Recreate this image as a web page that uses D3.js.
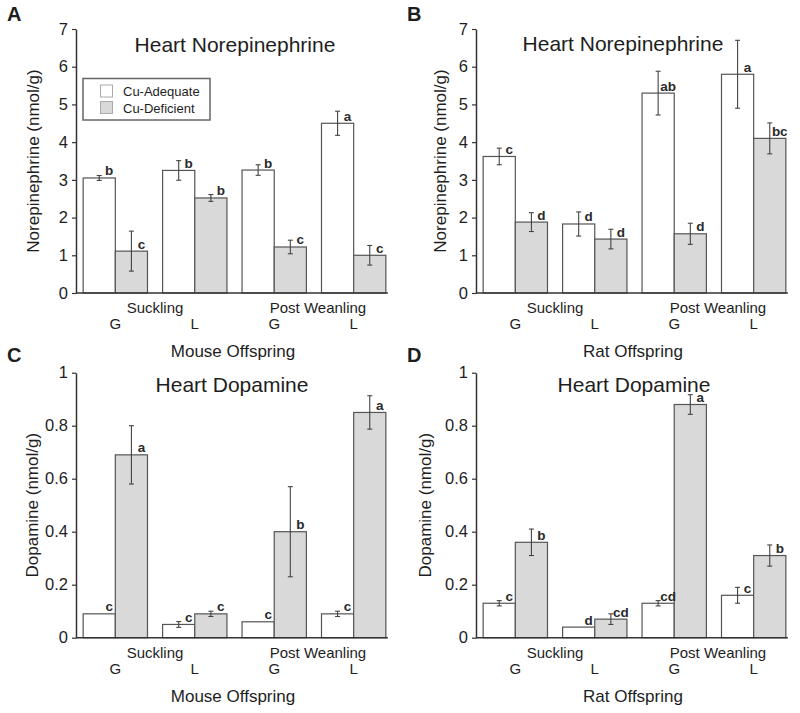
<!DOCTYPE html>
<html>
<head>
<meta charset="utf-8">
<script src="https://cdn.jsdelivr.net/npm/d3@7"></script>
<style>
  html, body { margin: 0; padding: 0; background: #fff; }
  svg { display: block; font-family: "Liberation Sans", Arial, sans-serif; }
</style>
</head>
<body>
<svg id="chart" width="800" height="713"></svg>
<script>
// ---------------- DATA ----------------
const groupLabels = ["G", "L", "G", "L"];
const periodLabels = ["Suckling", "Post Weanling"];
const seriesNames = ["Cu-Adequate", "Cu-Deficient"];

const neTicks = [0, 1, 2, 3, 4, 5, 6, 7];
const neTickLabels = ["0", "1", "2", "3", "4", "5", "6", "7"];
const daTicks = [0, 0.2, 0.4, 0.6, 0.8, 1];
const daTickLabels = ["0", "0.2", "0.4", "0.6", "0.8", "1"];

// A: Mouse heart norepinephrine
const mouseNE_adequate = [3.05, 3.25, 3.26, 4.50];
const mouseNE_adequateErr = [0.065, 0.26, 0.14, 0.32];
const mouseNE_deficient = [1.11, 2.52, 1.22, 1.00];
const mouseNE_deficientErr = [0.53, 0.09, 0.18, 0.26];
const mouseNE_adequateSig = ["b", "b", "b", "a"];
const mouseNE_deficientSig = ["c", "b", "c", "c"];

// B: Rat heart norepinephrine
const ratNE_adequate = [3.62, 1.83, 5.30, 5.80];
const ratNE_adequateErr = [0.22, 0.32, 0.58, 0.90];
const ratNE_deficient = [1.88, 1.43, 1.57, 4.10];
const ratNE_deficientErr = [0.25, 0.26, 0.28, 0.41];
const ratNE_adequateSig = ["c", "d", "ab", "a"];
const ratNE_deficientSig = ["d", "d", "d", "bc"];

// C: Mouse heart dopamine
const mouseDA_adequate = [0.09, 0.05, 0.06, 0.09];
const mouseDA_adequateErr = [0, 0.011, 0, 0.01];
const mouseDA_deficient = [0.69, 0.09, 0.40, 0.85];
const mouseDA_deficientErr = [0.11, 0.01, 0.17, 0.063];
const mouseDA_adequateSig = ["c", "c", "c", "c"];
const mouseDA_deficientSig = ["a", "c", "b", "a"];

// D: Rat heart dopamine
const ratDA_adequate = [0.13, 0.04, 0.13, 0.16];
const ratDA_adequateErr = [0.01, 0, 0.01, 0.03];
const ratDA_deficient = [0.36, 0.07, 0.88, 0.31];
const ratDA_deficientErr = [0.05, 0.02, 0.037, 0.04];
const ratDA_adequateSig = ["c", "d", "cd", "c"];
const ratDA_deficientSig = ["b", "cd", "a", "b"];

// ---------------- LAYOUT ----------------
const panels = [
  { id: "A", ox: 0, top: 29, bottom: 293, max: 7, ticks: neTicks, tickLabels: neTickLabels,
    title: "Heart Norepinephrine", titleX: 159, titleDy: 23, ylabel: "Norepinephrine (nmol/g)", ylabelX: 39,
    xlabel: "Mouse Offspring", legend: true, labelY: 21,
    adq: mouseNE_adequate, adqErr: mouseNE_adequateErr, def: mouseNE_deficient, defErr: mouseNE_deficientErr,
    adqSig: mouseNE_adequateSig, defSig: mouseNE_deficientSig },
  { id: "B", ox: 400, top: 29, bottom: 293, max: 7, ticks: neTicks, tickLabels: neTickLabels,
    title: "Heart Norepinephrine", titleX: 147, titleDy: 22, ylabel: "Norepinephrine (nmol/g)", ylabelX: 446,
    xlabel: "Rat Offspring", legend: false, labelY: 21,
    adq: ratNE_adequate, adqErr: ratNE_adequateErr, def: ratNE_deficient, defErr: ratNE_deficientErr,
    adqSig: ratNE_adequateSig, defSig: ratNE_deficientSig },
  { id: "C", ox: 0, top: 372.7, bottom: 637.7, max: 1, ticks: daTicks, tickLabels: daTickLabels,
    title: "Heart Dopamine", titleX: 156, titleDy: 19, ylabel: "Dopamine (nmol/g)", ylabelX: 38,
    xlabel: "Mouse Offspring", legend: false, labelY: 362,
    adq: mouseDA_adequate, adqErr: mouseDA_adequateErr, def: mouseDA_deficient, defErr: mouseDA_deficientErr,
    adqSig: mouseDA_adequateSig, defSig: mouseDA_deficientSig },
  { id: "D", ox: 400, top: 372.7, bottom: 637.7, max: 1, ticks: daTicks, tickLabels: daTickLabels,
    title: "Heart Dopamine", titleX: 158, titleDy: 19, ylabel: "Dopamine (nmol/g)", ylabelX: 431,
    xlabel: "Rat Offspring", legend: false, labelY: 362,
    adq: ratDA_adequate, adqErr: ratDA_adequateErr, def: ratDA_deficient, defErr: ratDA_deficientErr,
    adqSig: ratDA_adequateSig, defSig: ratDA_deficientSig }
];

const TEXT = "#1e1e1e";
const AXIS = "#333";
const BAR_STROKE = "#555";
const GRAY_FILL = "#d9d9d9";
const ERR = "#444";

const svg = d3.select("#chart");

panels.forEach(p => {
  const axisX = 76 + p.ox;
  const g = svg.append("g");

  const y = d3.scaleLinear().domain([0, p.max]).range([p.bottom, p.top]);
  const x = d3.scaleBand().domain(d3.range(4)).range([axisX, axisX + 317])
              .paddingInner(0.19).paddingOuter(0.09);
  const sub = d3.scaleBand().domain(seriesNames).range([0, x.bandwidth()]);

  // panel letter
  g.append("text").attr("x", p.ox + 7).attr("y", p.labelY)
    .attr("font-size", 20).attr("font-weight", "bold").attr("fill", TEXT).text(p.id);

  // title
  g.append("text").attr("x", axisX + p.titleX).attr("y", p.top + p.titleDy)
    .attr("text-anchor", "middle").attr("font-size", 21).attr("fill", TEXT).text(p.title);

  // bars
  const rows = d3.range(4).map(i => [
    { i, s: seriesNames[0], v: p.adq[i], e: p.adqErr[i], sig: p.adqSig[i], fill: "#fff" },
    { i, s: seriesNames[1], v: p.def[i], e: p.defErr[i], sig: p.defSig[i], fill: GRAY_FILL }
  ]).flat();

  g.selectAll("rect.bar").data(rows).join("rect")
    .attr("class", "bar")
    .attr("x", d => x(d.i) + sub(d.s))
    .attr("y", d => y(d.v))
    .attr("width", sub.bandwidth())
    .attr("height", d => y(0) - y(d.v))
    .attr("fill", d => d.fill)
    .attr("stroke", BAR_STROKE).attr("stroke-width", 1.2);

  // error bars
  const eb = rows.filter(d => d.e > 0);
  const cx = d => x(d.i) + sub(d.s) + sub.bandwidth() / 2;
  g.selectAll("line.ev").data(eb).join("line")
    .attr("x1", cx).attr("x2", cx)
    .attr("y1", d => y(d.v - d.e)).attr("y2", d => y(d.v + d.e))
    .attr("stroke", ERR).attr("stroke-width", 1.1);
  ["lo", "hi"].forEach(k => {
    g.selectAll("line.cap" + k).data(eb).join("line")
      .attr("x1", d => cx(d) - 2.5).attr("x2", d => cx(d) + 2.5)
      .attr("y1", d => y(k === "lo" ? d.v - d.e : d.v + d.e))
      .attr("y2", d => y(k === "lo" ? d.v - d.e : d.v + d.e))
      .attr("stroke", ERR).attr("stroke-width", 1.1);
  });

  // significance letters
  g.selectAll("text.sig").data(rows).join("text")
    .attr("x", d => cx(d) + 10)
    .attr("y", d => y(d.v) - 2.5)
    .attr("text-anchor", "middle")
    .attr("font-size", 13.5).attr("font-weight", "bold").attr("fill", "#2a2a2a")
    .text(d => d.sig);

  // y axis
  const yAxis = d3.axisLeft(y).tickValues(p.ticks)
    .tickFormat((d, i) => p.tickLabels[i]).tickSize(4).tickSizeOuter(0).tickPadding(4);
  const ya = g.append("g").attr("transform", `translate(${axisX},0)`).call(yAxis);
  ya.select(".domain").attr("stroke", AXIS).attr("stroke-width", 1.5);
  ya.selectAll(".tick line").attr("stroke", AXIS).attr("stroke-width", 1.2);
  ya.selectAll(".tick text").attr("font-size", 16.5).attr("fill", TEXT)
    .attr("font-family", "'Liberation Sans', Arial, sans-serif");

  // x axis line
  g.append("line")
    .attr("x1", axisX).attr("x2", x(3) + x.bandwidth() + 2)
    .attr("y1", y(0)).attr("y2", y(0))
    .attr("stroke", AXIS).attr("stroke-width", 1.5);

  // group labels G / L
  g.selectAll("text.grp").data(groupLabels).join("text")
    .attr("x", (d, i) => x(i) + x.bandwidth() / 2)
    .attr("y", y(0) + 36)
    .attr("text-anchor", "middle").attr("font-size", 15).attr("fill", TEXT)
    .text(d => d);

  // period labels
  g.selectAll("text.per").data(periodLabels).join("text")
    .attr("x", (d, j) => (x(2 * j) + x(2 * j + 1)) / 2 + x.bandwidth() / 2 + j * 4)
    .attr("y", y(0) + 20)
    .attr("text-anchor", "middle").attr("font-size", 15).attr("fill", TEXT)
    .text(d => d);

  // x label
  g.append("text").attr("x", axisX + 157).attr("y", y(0) + 64)
    .attr("text-anchor", "middle").attr("font-size", 17).attr("fill", TEXT).text(p.xlabel);

  // y label
  g.append("text")
    .attr("transform", `translate(${p.ylabelX},${(p.top + p.bottom) / 2}) rotate(-90)`)
    .attr("text-anchor", "middle").attr("font-size", 17).attr("fill", TEXT).text(p.ylabel);

  // legend
  if (p.legend) {
    const lg = g.append("g");
    lg.append("rect").attr("x", 83).attr("y", 78.5).attr("width", 127).attr("height", 41.5)
      .attr("fill", "#fff").attr("stroke", "#666").attr("stroke-width", 1.5);
    const fills = ["#fff", GRAY_FILL];
    seriesNames.forEach((s, i) => {
      lg.append("rect").attr("x", 100.5).attr("y", 85 + i * 16.5).attr("width", 12).attr("height", 12)
        .attr("fill", fills[i]).attr("stroke", "#aaa").attr("stroke-width", 1);
      lg.append("text").attr("x", 123).attr("y", 96 + i * 16.5)
        .attr("font-size", 13).attr("fill", TEXT).text(s);
    });
  }
});
</script>
</body>
</html>
